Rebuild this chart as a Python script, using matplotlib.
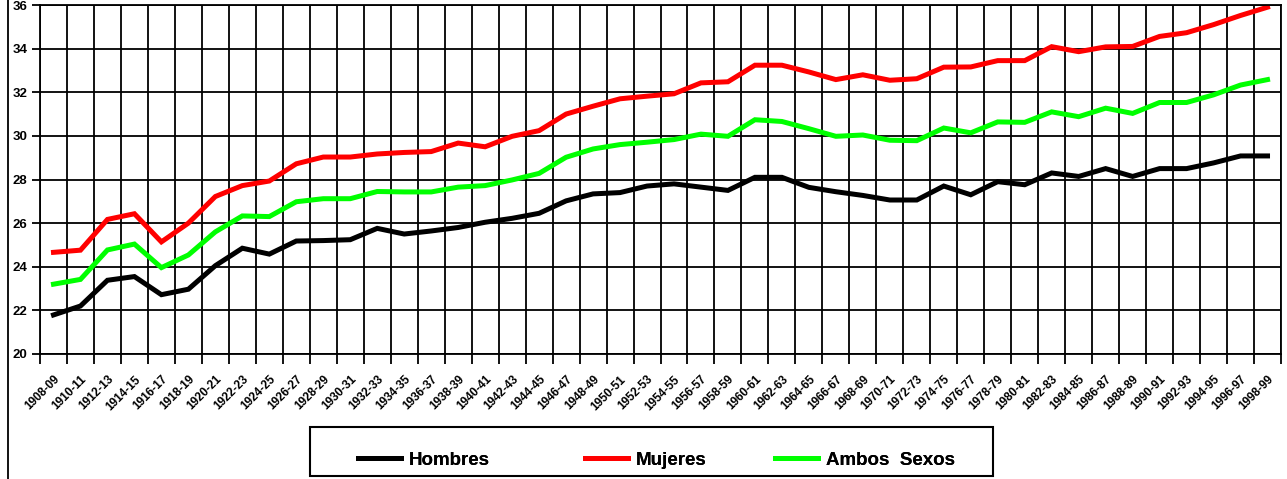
import numpy as np
import matplotlib
matplotlib.use("Agg")
import matplotlib.pyplot as plt
from matplotlib.patches import Rectangle
from matplotlib.lines import Line2D

# periodos bienales
periodos = [f"{a}-{str(a + 1)[2:]}" for a in range(1908, 1999, 2)]

hombres = [21.79, 22.20, 23.38, 23.55, 22.72, 22.97, 24.05, 24.85, 24.58, 25.18,
           25.20, 25.24, 25.76, 25.50, 25.64, 25.80, 26.04, 26.22, 26.45, 27.02,
           27.34, 27.40, 27.70, 27.80, 27.65, 27.50, 28.10, 28.10, 27.64, 27.44,
           27.27, 27.06, 27.06, 27.70, 27.30, 27.90, 27.76, 28.30, 28.14, 28.50,
           28.14, 28.50, 28.50, 28.76, 29.08, 29.08]

mujeres = [24.66, 24.76, 26.17, 26.43, 25.14, 26.00, 27.22, 27.72, 27.93, 28.72,
           29.03, 29.03, 29.17, 29.24, 29.28, 29.67, 29.50, 29.98, 30.24, 31.00,
           31.36, 31.70, 31.82, 31.93, 32.43, 32.48, 33.24, 33.24, 32.93, 32.58,
           32.80, 32.55, 32.62, 33.15, 33.16, 33.45, 33.45, 34.09, 33.86, 34.08,
           34.10, 34.56, 34.73, 35.10, 35.52, 35.90]

ambos = [23.20, 23.42, 24.77, 25.04, 23.96, 24.54, 25.60, 26.33, 26.30, 26.98,
         27.12, 27.12, 27.45, 27.43, 27.43, 27.65, 27.72, 27.98, 28.28, 29.02,
         29.40, 29.60, 29.71, 29.83, 30.08, 29.98, 30.74, 30.66, 30.33, 29.98,
         30.04, 29.80, 29.78, 30.36, 30.14, 30.64, 30.62, 31.10, 30.88, 31.27,
         31.03, 31.53, 31.53, 31.88, 32.33, 32.58]

plt.rcParams['font.family'] = ['Liberation Sans', 'DejaVu Sans']

W, H = 1287, 479
fig = plt.figure(figsize=(W / 100, H / 100), dpi=100)
ax = fig.add_axes([40 / W, 1 - 354 / H, (1281 - 40) / W, (354 - 5) / H])

x = np.arange(len(periodos))
l1, = ax.plot(x, hombres, color='black', lw=3.6, solid_joinstyle='miter', label='Hombres')
l2, = ax.plot(x, mujeres, color='#ff0000', lw=3.6, solid_joinstyle='miter', label='Mujeres')
l3, = ax.plot(x, ambos, color='#00ff00', lw=3.6, solid_joinstyle='miter', label='Ambos  Sexos')

ax.set_xlim(-0.5, len(periodos) - 0.5)
ax.set_ylim(20, 36)
ax.set_yticks(np.arange(20, 37, 2))
ax.set_yticklabels([str(v) for v in range(20, 37, 2)], fontsize=9.5, fontweight='bold')

# grid on category boundaries, labels on category centres
ax.set_xticks(np.arange(-0.5, len(periodos), 1))
ax.set_xticklabels([])
ax.set_xticks(x, minor=True)
ax.set_xticklabels(periodos, minor=True, rotation=45, ha='right',
                   rotation_mode='anchor', fontsize=8.5, fontweight='bold')
ax.tick_params(axis='x', which='major', length=7, width=1.3, color='black', direction='out')
ax.tick_params(axis='x', which='minor', length=0, pad=14)
ax.tick_params(axis='y', length=6, width=1.3, direction='out', pad=3)

ax.grid(True, which='major', color='black', lw=1.3)
ax.set_axisbelow(True)
for s in ax.spines.values():
    s.set_linewidth(1.3)
    s.set_color('black')

# outer frame line on the left
fig.add_artist(Line2D([8 / W, 8 / W], [0, 1], color='black', lw=1.3))

# legend box, one entry each so the spacing follows the original
fig.add_artist(Rectangle((310 / W, 1 - 476 / H), (993 - 310) / W, (476 - 427) / H,
                         fill=False, edgecolor='black', lw=1.5, transform=fig.transFigure))
for h, xs in [(l1, 358), (l2, 585), (l3, 775)]:
    fig.add_artist(fig.legend(handles=[h], loc='center left',
                              bbox_to_anchor=(xs / W, 1 - 460 / H), frameon=False,
                              prop={'weight': 'bold', 'size': 13.5},
                              handlelength=2.3, handletextpad=0.4, borderpad=0,
                              borderaxespad=0))

plt.savefig("out.png", dpi=100)
